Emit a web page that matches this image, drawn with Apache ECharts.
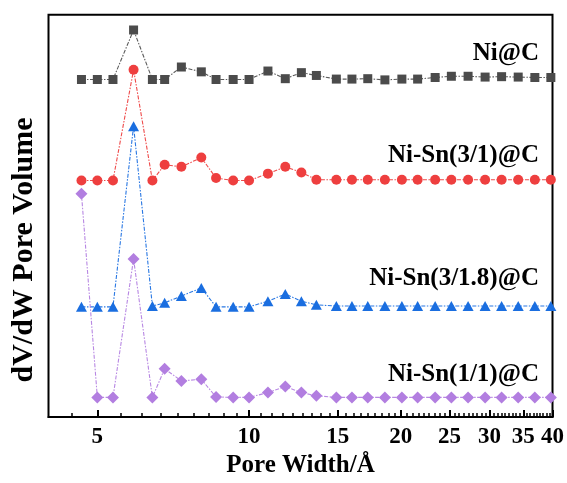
<!DOCTYPE html>
<html>
<head>
<meta charset="utf-8">
<script src="https://cdn.jsdelivr.net/npm/echarts@6/dist/echarts.min.js"></script>
<style>
  html, body { margin: 0; padding: 0; background: #fff; }
  #chart { width: 567px; height: 483px; }
</style>
</head>
<body>
<div id="chart"></div>
<script>
// Pore width (Å) of each point of the distributions
const poreWidth = [4.65, 5.0, 5.37, 5.9, 6.43, 6.8, 7.34, 8.04, 8.6, 9.3, 10.0, 10.9, 11.8, 12.7, 13.6,
                   14.9, 16.0, 17.2, 18.6, 20.1, 21.6, 23.4, 25.2, 27.2, 29.4, 31.7, 34.2, 36.9, 39.7];

// dV/dW (a.u., curves stacked with vertical offsets)
const niC = [83.9, 83.9, 83.9, 96.2, 83.9, 83.9, 87.0, 85.8, 83.9, 83.9, 83.9, 86.0, 84.1, 85.6, 84.9,
             84.0, 84.0, 84.1, 83.8, 84.0, 84.0, 84.4, 84.7, 84.7, 84.5, 84.6, 84.5, 84.4, 84.4];
const niSn31 = [58.8, 58.8, 58.8, 86.3, 58.8, 62.7, 62.2, 64.5, 59.4, 58.8, 58.8, 60.5, 62.2, 60.8, 59.0,
                59.0, 59.0, 59.0, 59.0, 59.0, 59.0, 59.0, 59.0, 59.0, 59.0, 59.0, 59.0, 59.0, 59.0];
const niSn318 = [27.4, 27.4, 27.4, 72.3, 27.6, 28.4, 30.1, 32.1, 27.4, 27.4, 27.4, 28.8, 30.6, 28.8, 27.9,
                 27.6, 27.6, 27.6, 27.6, 27.6, 27.6, 27.6, 27.6, 27.6, 27.6, 27.6, 27.6, 27.6, 27.6];
const niSn11 = [55.5, 4.9, 4.9, 39.3, 4.9, 12.0, 9.0, 9.4, 5.0, 4.9, 4.9, 6.1, 7.6, 6.1, 5.3,
                4.9, 4.9, 4.9, 4.9, 4.9, 4.9, 4.9, 4.9, 4.9, 4.9, 4.9, 4.9, 4.9, 4.9];

const seriesNames = ['Ni@C', 'Ni-Sn(3/1)@C', 'Ni-Sn(3/1.8)@C', 'Ni-Sn(1/1)@C'];

// Axis ticks
const majorTicks = [5, 10, 15, 20, 25, 30, 35, 40];
const minorTicks = [];
for (let base = 0; base < 40; base += 5) {
  for (let j = 1; j <= 8; j++) {
    const v = base + j * 5 / 9;
    if (v >= 4) minorTicks.push(v);
  }
}

const FONT = '"Liberation Serif", "Times New Roman", serif';

function pairs(ys) { return poreWidth.map((x, i) => [x, ys[i]]); }

function makeSeries(name, ys, symbol, size, color, lineColor) {
  return {
    name, type: 'line', data: pairs(ys),
    symbol, symbolSize: size, showAllSymbol: true,
    itemStyle: { color },
    lineStyle: { color: lineColor, width: 1.1, type: [4, 1.5, 1.5, 1.5] },
    clip: false,
    animation: false
  };
}

const chart = echarts.init(document.getElementById('chart'));
chart.setOption({
  animation: false,
  grid: {
    left: 48.5, right: 14.3, top: 14.7, bottom: 61.3,
    show: true, borderColor: '#000', borderWidth: 2, backgroundColor: 'transparent'
  },
  xAxis: [
    {
      type: 'log', logBase: 10, min: 4, max: 40,
      name: 'Pore Width/Å', nameLocation: 'middle', nameGap: 32,
      nameTextStyle: { fontFamily: FONT, fontWeight: 'bold', fontSize: 25, color: '#000' },
      axisLine: { show: true, lineStyle: { color: '#000', width: 2 } },
      axisTick: { show: true, inside: true, length: 7, lineStyle: { color: '#000', width: 2 }, customValues: majorTicks },
      axisLabel: {
        customValues: majorTicks, margin: 8,
        fontFamily: FONT, fontWeight: 'bold', fontSize: 23, color: '#000',
        formatter: v => String(Math.round(v))
      },
      splitLine: { show: false }, minorTick: { show: false }
    },
    {
      type: 'log', logBase: 10, min: 4, max: 40, position: 'bottom',
      axisLine: { show: false },
      axisTick: { show: true, inside: true, length: 4, lineStyle: { color: '#000', width: 1.5 }, customValues: minorTicks },
      axisLabel: { show: false },
      splitLine: { show: false }
    }
  ],
  yAxis: {
    type: 'value', min: 0, max: 100,
    axisLine: { show: false }, axisTick: { show: false }, axisLabel: { show: false }, splitLine: { show: false }
  },
  series: [
    makeSeries(seriesNames[0], niC, 'rect', 9, '#4b4b4b', '#5a5a5a'),
    makeSeries(seriesNames[1], niSn31, 'circle', 10, '#ee3f3f', '#ef4a4a'),
    makeSeries(seriesNames[2], niSn318, 'triangle', [11, 10], '#1a6ee0', '#2a78e3'),
    makeSeries(seriesNames[3], niSn11, 'diamond', 12, '#b27ee0', '#b888e3')
  ],
  graphic: [
    { type: 'text', right: 28, top: 41, style: { text: seriesNames[0], font: 'bold 25px ' + FONT, fill: '#000' } },
    { type: 'text', right: 28, top: 143, style: { text: seriesNames[1], font: 'bold 25px ' + FONT, fill: '#000' } },
    { type: 'text', right: 28, top: 266.5, style: { text: seriesNames[2], font: 'bold 25px ' + FONT, fill: '#000' } },
    { type: 'text', right: 28, top: 362.5, style: { text: seriesNames[3], font: 'bold 25px ' + FONT, fill: '#000' } },
    {
      type: 'text', x: 24, y: 250, rotation: Math.PI / 2,
      style: { text: 'dV/dW Pore Volume', font: 'bold 30px ' + FONT, fill: '#000', textAlign: 'center', textVerticalAlign: 'middle' }
    }
  ]
});
</script>
</body>
</html>
